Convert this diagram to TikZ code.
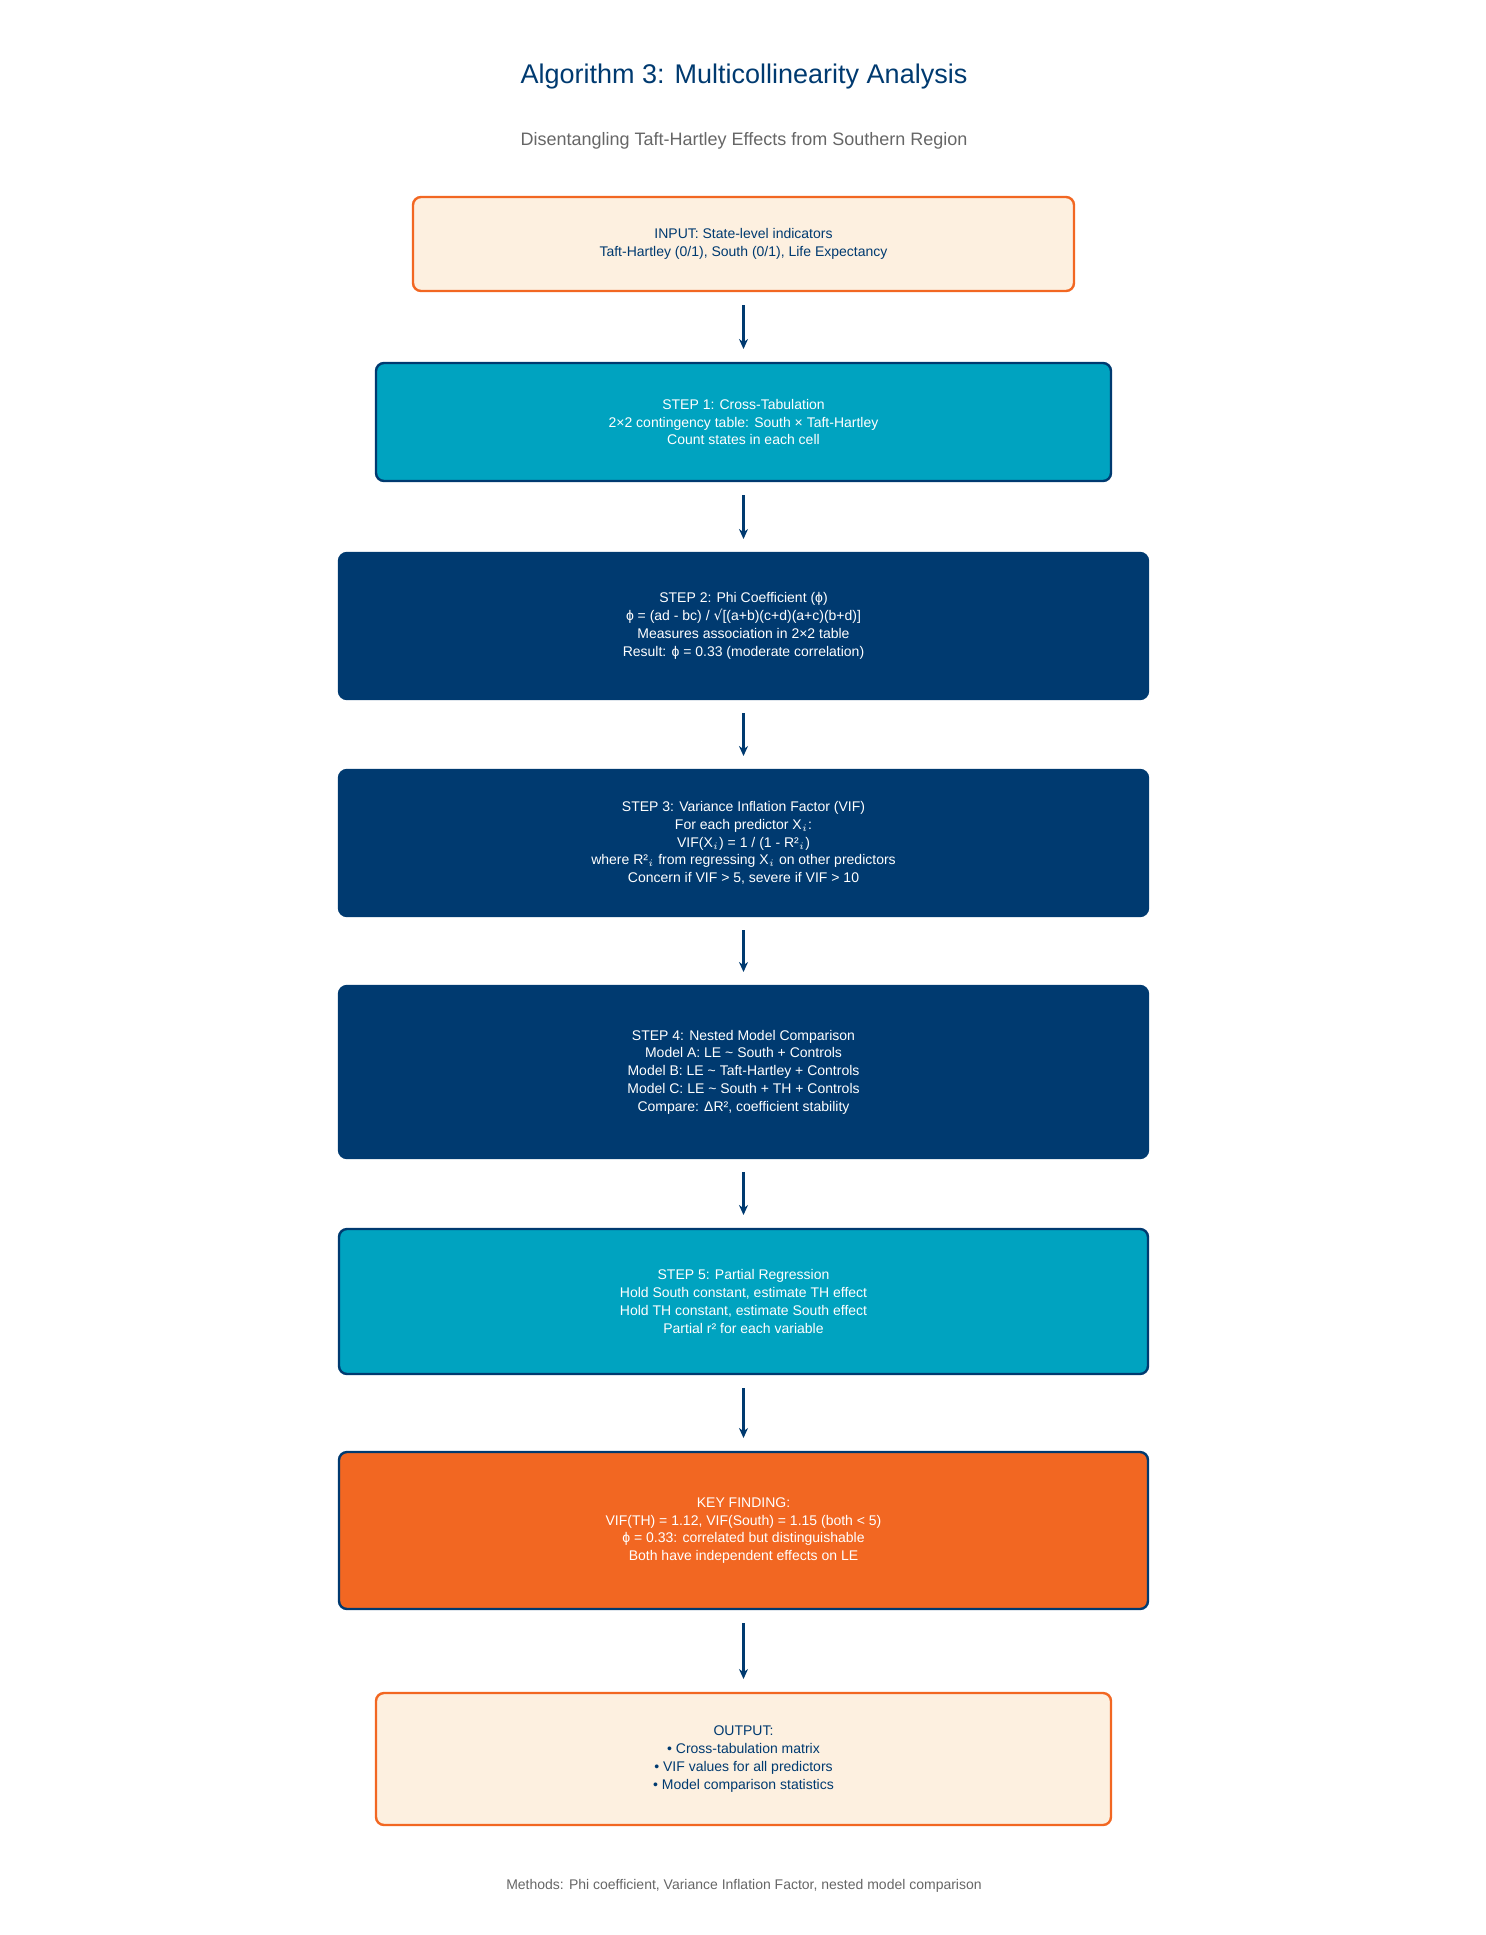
\documentclass[tikz,border=0pt]{standalone}
\usepackage{fontspec}
\setmainfont{Liberation Sans}
\newfontfamily\symf{DejaVu Sans}
\usetikzlibrary{arrows.meta}
\definecolor{navy}{HTML}{003A70}
\definecolor{teal}{HTML}{00A3C0}
\definecolor{orng}{HTML}{F26722}
\definecolor{cream}{HTML}{FDF0E0}
\definecolor{greytxt}{HTML}{666666}
\begin{document}
\begin{tikzpicture}[x=0.5pt,y=-0.5pt,
 boxbase/.style={rounded corners=4pt,line width=1.2pt,align=center,font=\fontsize{7}{8.9}\selectfont},
 inbox/.style={boxbase,draw=orng,fill=cream,text=navy},
 tealbox/.style={boxbase,draw=navy,fill=teal,text=white},
 navybox/.style={boxbase,draw=navy,fill=navy,text=white},
 keybox/.style={boxbase,draw=navy,fill=orng,text=white},
 arr/.style={-{Stealth[length=5pt,width=4.5pt]},line width=1.3pt,draw=navy}]
\useasboundingbox (0,0) rectangle (1485,1935);
\node[font=\fontsize{13.5}{16}\selectfont,text=navy] (title) at (744,77) {Algorithm 3: Multicollinearity Analysis};
\node[font=\fontsize{9}{11}\selectfont,text=greytxt] (sub) at (744,141) {Disentangling Taft-Hartley Effects from Southern Region};
\newcommand{\bx}[7]{\draw[#1] (#2,#3) rectangle (#4,#5); \node[#1,draw=none,fill=none] (#6) at ({(#2+#4)/2},{(#3+#5)/2}) {#7};
 \coordinate (#6t) at ({(#2+#4)/2},#3); \coordinate (#6b) at ({(#2+#4)/2},#5);}
\bx{inbox}{413}{197}{1074}{291}{in}{INPUT: State-level indicators\\Taft-Hartley (0/1), South (0/1), Life Expectancy}
\bx{tealbox}{376}{363}{1111}{481}{s1}{STEP 1: Cross-Tabulation\\2×2 contingency table: South × Taft-Hartley\\Count states in each cell}
\bx{navybox}{339}{553}{1148}{699}{s2}{STEP 2: Phi Coefficient (ϕ)\\ϕ = (ad - bc) / {\symf √}[(a+b)(c+d)(a+c)(b+d)]\\Measures association in 2×2 table\\Result: ϕ = 0.33 (moderate correlation)}
\bx{navybox}{339}{770}{1148}{916}{s3}{STEP 3: Variance Inflation Factor (VIF)\\For each predictor X$_i$:\\VIF(X$_i$) = 1 / (1 - R²$_i$)\\where R²$_i$ from regressing X$_i$ on other predictors\\Concern if VIF > 5, severe if VIF > 10}
\bx{navybox}{339}{986}{1148}{1158}{s4}{STEP 4: Nested Model Comparison\\Model A: LE \textasciitilde{} South + Controls\\Model B: LE \textasciitilde{} Taft-Hartley + Controls\\Model C: LE \textasciitilde{} South + TH + Controls\\Compare: ΔR², coefficient stability}
\bx{tealbox}{339}{1229}{1148}{1374}{s5}{STEP 5: Partial Regression\\Hold South constant, estimate TH effect\\Hold TH constant, estimate South effect\\Partial r² for each variable}
\bx{keybox}{339}{1452}{1148}{1609}{key}{KEY FINDING:\\VIF(TH) = 1.12, VIF(South) = 1.15 (both < 5)\\ϕ = 0.33: correlated but distinguishable\\Both have independent effects on LE}
\bx{inbox}{376}{1693}{1111}{1825}{out}{OUTPUT:\\• Cross-tabulation matrix\\• VIF values for all predictors\\• Model comparison statistics}
\foreach \a/\b in {in/s1,s1/s2,s2/s3,s3/s4,s4/s5,s5/key,key/out}
 \draw[arr] ([yshift=-7pt]\a b) -- ([yshift=7pt]\b t);
\node[font=\fontsize{7}{9}\selectfont,text=greytxt] (foot) at (744,1886) {Methods: Phi coefficient, Variance Inflation Factor, nested model comparison};
\end{tikzpicture}
\end{document}
